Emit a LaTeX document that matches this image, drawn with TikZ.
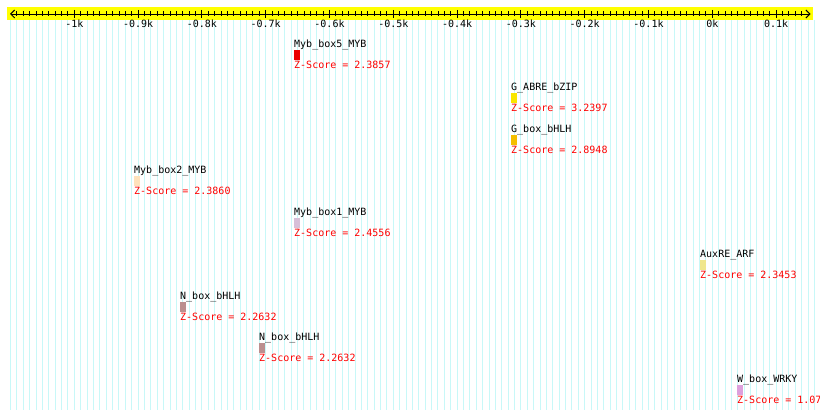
\documentclass[tikz,border=0pt]{standalone}
\usepackage{fontspec}
\setmonofont{DejaVu Sans Mono}
\usetikzlibrary{arrows.meta}
\definecolor{gridc}{RGB}{200,248,248}
\definecolor{bandc}{RGB}{255,255,0}
\definecolor{zred}{RGB}{255,0,0}
\definecolor{cMybfive}{RGB}{235,0,0}
\definecolor{cABRE}{RGB}{250,230,0}
\definecolor{cGbox}{RGB}{245,190,0}
\definecolor{cMybtwo}{RGB}{255,226,188}
\definecolor{cMybone}{RGB}{216,191,216}
\definecolor{cAuxRE}{RGB}{240,230,140}
\definecolor{cNbox}{RGB}{188,143,143}
\definecolor{cWbox}{RGB}{221,160,221}
\tikzset{
  gridline/.style={draw=gridc, line width=1pt},
  minortick/.style={draw=black, line width=0.9pt},
  majortick/.style={draw=black, line width=0.9pt},
  ticklabel/.style={anchor=base, inner sep=0pt, text=black},
  namelbl/.style={anchor=base west, inner sep=0pt, text=black},
  zlbl/.style={anchor=base west, inner sep=0pt, text=zred},
  featbar/.style={anchor=north west, inner sep=0pt, minimum width=5.5pt, minimum height=9.5pt, draw=none},
}
\newcommand\featbox[6]{%
  \node[namelbl] (n#1) at ({#2},{#3+7.3}) {#4};
  \node[featbar, fill=#5] (b#1) at ({#2},{#3+10}) {};
  \node[zlbl] (z#1) at ({#2},{#3+29}) {Z-Score = #6};
}
\begin{document}
\begin{tikzpicture}[x=1pt,y=-1pt,font=\ttfamily\fontsize{10}{12}\selectfont]
\useasboundingbox (0,0) rectangle (820,419);
\fill[white] (0,0) rectangle (820,419);
% grid
\foreach \b in {-1100,-1090,...,160}
  \draw[gridline] ({712.3+0.638*\b},20.5) -- ({712.3+0.638*\b},410);
% axis band
\fill[bandc] (7,7) rectangle (813,20.5);
\coordinate (axL) at (10,14);
\coordinate (axR) at (810.5,14);
\draw[line width=0.9pt, {Straight Barb[length=4pt,width=8pt]}-{Straight Barb[length=4pt,width=8pt]}] (axL) -- (axR);
\foreach \b in {-1090,-1080,...,140}
  \draw[minortick] ({712.3+0.638*\b},11.5) -- ({712.3+0.638*\b},16.5);
\foreach \b/\t [count=\i] in {-1000/-1k,-900/-0.9k,-800/-0.8k,-700/-0.7k,-600/-0.6k,-500/-0.5k,-400/-0.4k,-300/-0.3k,-200/-0.2k,-100/-0.1k,0/0k,100/0.1k}{
  \draw[majortick] ({712.3+0.638*\b},10) -- ({712.3+0.638*\b},18);
  \node[ticklabel] (tl\i) at ({712.3+0.638*\b},27.5) {\t};
}
% features
\featbox{a}{294}{40}{Myb\_box5\_MYB}{cMybfive}{2.3857}
\featbox{b}{511}{83}{G\_ABRE\_bZIP}{cABRE}{3.2397}
\featbox{c}{511}{125}{G\_box\_bHLH}{cGbox}{2.8948}
\featbox{d}{134}{166}{Myb\_box2\_MYB}{cMybtwo}{2.3860}
\featbox{e}{294}{208}{Myb\_box1\_MYB}{cMybone}{2.4556}
\featbox{f}{700}{250}{AuxRE\_ARF}{cAuxRE}{2.3453}
\featbox{g}{180}{292}{N\_box\_bHLH}{cNbox}{2.2632}
\featbox{h}{259}{333}{N\_box\_bHLH}{cNbox}{2.2632}
\featbox{i}{737}{375}{W\_box\_WRKY}{cWbox}{1.07}
\end{tikzpicture}
\end{document}
